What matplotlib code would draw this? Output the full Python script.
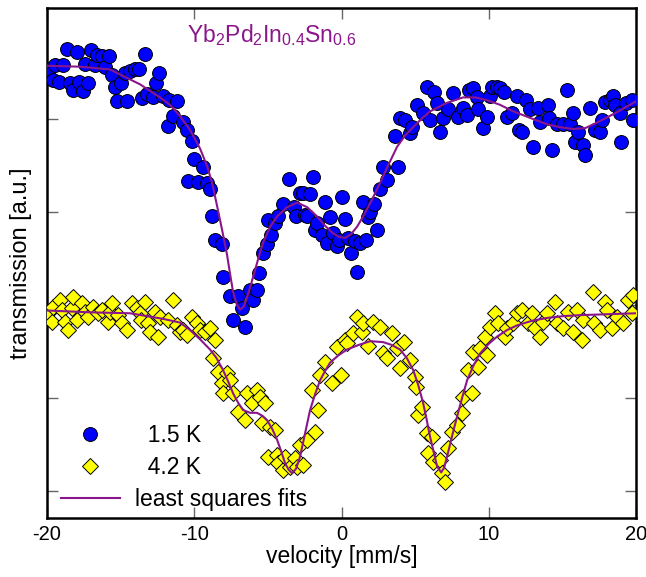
import matplotlib as mpl

mpl.use("Agg")
import matplotlib.pyplot as plt
from matplotlib.lines import Line2D

plt.rcParams["font.family"] = ["Liberation Sans", "DejaVu Sans"]
plt.rcParams["mathtext.default"] = "regular"

PURPLE = "#8b168b"

# 1.5 K spectrum (velocity in mm/s, transmission in a.u.)
v_15K = [
    -19.95, -19.90, -19.59, -19.46, -19.19, -18.91, -18.64, -18.44, -18.23, -17.96,
    -17.83, -17.56, -17.42, -17.22, -17.01, -16.74, -16.60, -16.26, -16.06, -15.79,
    -15.59, -15.38, -15.25, -14.97, -14.70, -14.57, -14.36, -14.02, -13.75, -13.55,
    -13.34, -13.21, -12.80, -12.60, -12.39, -12.12, -11.78, -11.71, -11.44, -11.17,
    -10.76, -10.49, -10.42, -10.15, -10.02, -9.75, -9.41, -9.13, -8.93, -8.79,
    -8.59, -8.12, -8.05, -7.57, -7.37, -7.03, -6.76, -6.55, -6.21, -6.01,
    -5.74, -5.60, -5.33, -5.06, -4.99, -4.79, -4.52, -4.31, -3.97, -3.57,
    -3.23, -3.09, -2.82, -2.61, -2.48, -2.34, -2.14, -1.94, -1.80, -1.66,
    -1.32, -1.12, -0.98, -0.78, -0.58, -0.31, -0.17, 0.03, 0.24, 0.44,
    0.64, 0.92, 1.05, 1.26, 1.46, 1.66, 1.80, 1.94, 2.21, 2.41,
    2.61, 2.82, 3.09, 3.63, 3.84, 3.97, 4.31, 4.65, 4.79, 5.13,
    5.53, 5.81, 6.01, 6.28, 6.49, 6.69, 6.89, 7.23, 7.57, 7.91,
    8.25, 8.52, 8.66, 8.93, 9.20, 9.27, 9.61, 9.88, 10.08, 10.22,
    10.56, 10.76, 11.04, 11.24, 11.58, 11.92, 12.05, 12.26, 12.53, 12.80,
    13.00, 13.34, 13.48, 14.02, 14.10, 14.30, 14.63, 15.04, 15.31, 15.52,
    15.72, 15.86, 16.06, 16.40, 16.54, 16.88, 17.22, 17.56, 17.69, 17.89,
    18.23, 18.44, 18.57, 18.91, 18.95, 19.32, 19.73, 19.78,
]
t_15K = [
    4.44, 4.54, 4.42, 4.58, 4.40, 4.58, 4.75, 4.39, 4.31, 4.72,
    4.40, 4.30, 4.59, 4.39, 4.74, 4.58, 4.69, 4.67, 4.56, 4.68,
    4.47, 4.34, 4.19, 4.39, 4.49, 4.19, 4.51, 4.53, 4.53, 4.22,
    4.70, 4.27, 4.23, 4.39, 4.49, 4.24, 3.92, 4.20, 4.03, 4.19,
    3.97, 3.88, 3.33, 3.76, 3.57, 3.32, 3.48, 3.31, 3.25, 2.96,
    2.70, 2.65, 2.30, 2.10, 1.84, 2.10, 1.97, 1.76, 2.16, 2.05,
    2.16, 2.34, 2.56, 2.65, 2.91, 2.75, 2.88, 2.96, 3.08, 3.35,
    3.05, 2.96, 3.20, 3.20, 2.97, 2.96, 3.19, 3.37, 2.81, 2.88,
    2.75, 3.11, 2.66, 2.95, 2.77, 2.63, 2.70, 3.16, 2.92, 2.72,
    2.56, 2.69, 2.35, 2.66, 3.11, 2.70, 2.94, 3.00, 3.08, 2.81,
    3.25, 3.48, 3.34, 3.81, 3.48, 4.01, 3.99, 3.85, 3.91, 4.15,
    4.06, 4.34, 3.99, 4.29, 4.17, 3.86, 4.01, 4.10, 4.28, 4.02,
    4.12, 4.04, 4.31, 4.33, 4.23, 4.10, 3.90, 4.02, 4.24, 4.34,
    4.34, 4.33, 4.29, 4.02, 4.06, 4.24, 3.88, 3.86, 4.20, 4.10,
    3.70, 4.12, 3.97, 4.15, 4.01, 3.67, 3.94, 3.94, 4.31, 3.94,
    4.06, 3.75, 3.86, 3.72, 3.61, 4.12, 3.88, 3.86, 3.99, 4.18,
    4.20, 4.24, 4.15, 4.06, 3.75, 4.17, 4.20, 3.99,
]

# 4.2 K spectrum
v_42K = [
    -19.93, -19.66, -19.59, -19.12, -18.98, -18.78, -18.57, -18.30, -18.23, -17.96,
    -17.62, -17.42, -17.22, -16.88, -16.54, -16.26, -15.86, -15.72, -15.59, -15.18,
    -14.91, -14.57, -14.23, -13.89, -13.68, -13.62, -13.34, -13.14, -13.01, -12.67,
    -12.46, -12.33, -11.78, -11.44, -11.17, -10.97, -10.76, -10.49, -10.15, -9.81,
    -9.61, -9.27, -8.93, -8.73, -8.59, -8.39, -8.12, -8.05, -7.78, -7.57,
    -7.37, -7.03, -6.55, -6.42, -6.08, -5.74, -5.53, -5.40, -5.20, -4.99,
    -4.86, -4.52, -4.38, -4.31, -3.97, -3.84, -3.50, -3.16, -3.02, -2.82,
    -2.61, -2.34, -2.00, -1.80, -1.60, -1.46, -1.12, -0.65, -0.31, -0.03,
    0.24, 0.37, 0.78, 1.05, 1.39, 1.46, 1.80, 2.14, 2.61, 2.82,
    3.09, 3.43, 3.77, 3.97, 4.24, 4.65, 4.99, 5.05, 5.20, 5.47,
    5.81, 5.86, 6.15, 6.20, 6.69, 6.83, 7.03, 7.23, 7.50, 7.84,
    8.18, 8.25, 8.59, 8.86, 8.93, 9.27, 9.41, 9.75, 9.88, 10.08,
    10.42, 10.63, 11.10, 11.24, 11.65, 11.92, 12.26, 12.67, 12.94, 13.14,
    13.48, 13.68, 13.96, 14.50, 14.63, 15.04, 15.38, 15.72, 15.99, 16.33,
    16.40, 17.08, 17.13, 17.56, 17.89, 18.03, 18.37, 18.71, 19.12, 19.46,
    19.73, 19.80,
]
t_42K = [
    1.91, 1.82, 1.98, 2.05, 1.95, 1.82, 1.73, 1.97, 2.09, 1.84,
    2.02, 1.92, 1.87, 1.98, 1.91, 1.95, 1.82, 1.92, 2.02, 1.89,
    1.81, 1.73, 2.02, 1.97, 1.91, 1.84, 2.03, 1.81, 1.71, 1.92,
    1.65, 1.87, 1.84, 2.05, 1.78, 1.71, 1.73, 1.68, 1.87, 1.81,
    1.73, 1.71, 1.75, 1.43, 1.62, 1.28, 1.16, 1.05, 1.27, 1.19,
    1.05, 0.85, 0.76, 1.05, 0.95, 1.09, 1.01, 0.73, 0.95, 0.37,
    0.69, 0.66, 0.39, 0.30, 0.23, 0.37, 0.26, 0.35, 0.26, 0.49,
    0.28, 0.55, 1.09, 0.63, 0.87, 1.25, 1.39, 1.16, 1.55, 1.25,
    1.62, 1.59, 1.70, 1.87, 1.71, 1.81, 1.56, 1.82, 1.76, 1.48,
    1.43, 1.70, 1.54, 1.32, 1.60, 1.41, 1.23, 1.12, 0.82, 0.90,
    0.62, 0.41, 0.58, 0.31, 0.33, 0.19, 0.10, 0.46, 0.63, 0.71,
    0.84, 1.01, 1.30, 1.05, 1.49, 1.33, 1.54, 1.65, 1.46, 1.76,
    1.91, 1.81, 1.65, 1.75, 1.81, 1.91, 1.95, 1.81, 1.91, 1.75,
    1.65, 1.82, 1.91, 2.03, 1.81, 1.75, 1.92, 1.71, 1.95, 1.62,
    1.84, 2.14, 1.81, 1.73, 2.03, 1.95, 1.75, 1.87, 1.81, 2.05,
    1.91, 2.11,
]

# least squares fits
v_fit15 = [
    -20.0, -17.76, -15.72, -13.68, -12.33, -11.65, -10.97, -10.29, -9.61, -9.13,
    -8.79, -8.45, -8.12, -7.78, -7.57, -7.37, -7.13, -6.89, -6.65, -6.42,
    -6.21, -6.01, -5.67, -5.33, -4.85, -4.38, -3.70, -3.02, -2.34, -1.66,
    -1.12, -0.58, -0.17, 0.24, 0.64, 1.05, 1.46, 2.03, 2.61, 3.19,
    3.77, 4.31, 4.86, 5.43, 6.01, 7.13, 8.25, 9.06, 9.88, 10.76,
    11.65, 12.80, 13.96, 14.84, 15.72, 16.54, 17.35, 18.57, 19.80, 20.0,
]
t_fit15 = [
    4.57, 4.56, 4.53, 4.37, 4.23, 4.15, 4.03, 3.88, 3.68, 3.49,
    3.31, 3.06, 2.81, 2.54, 2.33, 2.14, 2.01, 1.95, 1.98, 2.08,
    2.19, 2.30, 2.49, 2.67, 2.84, 2.95, 3.05, 3.10, 3.05, 2.95,
    2.85, 2.77, 2.73, 2.72, 2.76, 2.84, 2.95, 3.12, 3.31, 3.51,
    3.70, 3.82, 3.91, 4.00, 4.08, 4.17, 4.23, 4.23, 4.20, 4.15,
    4.08, 4.01, 3.94, 3.91, 3.89, 3.90, 3.96, 4.06, 4.17, 4.19,
]
v_fit42 = [
    -20.0, -17.08, -14.36, -12.12, -10.97, -10.29, -9.61, -8.93, -8.50, -8.05,
    -7.71, -7.37, -7.03, -6.69, -6.21, -5.74, -5.40, -5.06, -4.72, -4.38,
    -4.11, -3.84, -3.60, -3.36, -3.09, -2.82, -2.48, -2.14, -1.80, -1.46,
    -1.12, -0.78, -0.20, 0.37, 1.16, 1.94, 2.82, 3.40, 3.97, 4.42,
    4.86, 5.20, 5.53, 5.77, 6.01, 6.25, 6.49, 6.76, 6.96, 7.16,
    7.50, 7.84, 8.18, 8.52, 8.96, 9.41, 9.98, 10.56, 11.24, 11.92,
    12.94, 13.96, 15.08, 16.20, 18.10, 20.0,
]
t_fit42 = [
    1.94, 1.92, 1.91, 1.85, 1.81, 1.73, 1.63, 1.52, 1.43, 1.30,
    1.18, 1.05, 0.95, 0.87, 0.84, 0.84, 0.81, 0.76, 0.67, 0.55,
    0.43, 0.30, 0.23, 0.19, 0.24, 0.37, 0.62, 0.87, 1.04, 1.19,
    1.29, 1.38, 1.46, 1.52, 1.57, 1.61, 1.60, 1.57, 1.52, 1.43,
    1.30, 1.14, 0.95, 0.77, 0.58, 0.42, 0.26, 0.20, 0.25, 0.37,
    0.59, 0.80, 1.00, 1.19, 1.35, 1.48, 1.58, 1.66, 1.73, 1.78,
    1.83, 1.86, 1.88, 1.89, 1.90, 1.91,
]

x_ticks = [-20, -10, 0, 10, 20]
y_ticks = [0, 1, 2, 3, 4]

BLUE_STYLE = dict(marker="o", ms=10, mfc="#0000ff", mec="black", mew=0.7)
YELLOW_STYLE = dict(marker="D", ms=7.8, mfc="#ffff00", mec="black", mew=0.7)

fig = plt.figure(figsize=(6.46, 5.77), dpi=100)
ax = fig.add_axes([0.0728, 0.1023, 0.912, 0.8837])

ax.plot(v_15K, t_15K, ls="none", zorder=3, **BLUE_STYLE)
ax.plot(v_42K, t_42K, ls="none", zorder=3, **YELLOW_STYLE)
ax.plot(v_fit15, t_fit15, "-", color=PURPLE, lw=1.5, zorder=4)
ax.plot(v_fit42, t_fit42, "-", color=PURPLE, lw=1.5, zorder=4)

ax.set_xlim(-20, 20)
ax.set_ylim(-0.29, 5.19)
ax.set_xticks(x_ticks)
ax.set_xticklabels([str(t) for t in x_ticks])
ax.set_yticks(y_ticks)
ax.set_yticklabels([])
ax.tick_params(direction="in", length=8, width=1, color="#666666",
               top=True, right=True, labelsize=14.5, pad=5)
for sp in ax.spines.values():
    sp.set_linewidth(1.8)

ax.set_xlabel("velocity [mm/s]", fontsize=16.5, labelpad=1)
ax.set_ylabel("transmission [a.u.]", fontsize=17, labelpad=6)

ax.text(0.238, 0.947, "Yb$_2$Pd$_2$In$_{0.4}$Sn$_{0.6}$", transform=ax.transAxes,
        color=PURPLE, fontsize=16.5, ha="left", va="center")

handles = [
    Line2D([], [], ls="none", **BLUE_STYLE),
    Line2D([], [], ls="none", **YELLOW_STYLE),
    Line2D([], [], color=PURPLE, lw=1.5),
]
labels = ["  1.5 K", "  4.2 K", "least squares fits"]
ax.legend(handles, labels, loc="lower left", bbox_to_anchor=(-0.008, -0.023),
          frameon=False, fontsize=16.5, handlelength=2.6, handletextpad=0.65,
          labelspacing=0.4, borderpad=0.3)

fig.savefig("out.png", dpi=100)
plt.close(fig)
